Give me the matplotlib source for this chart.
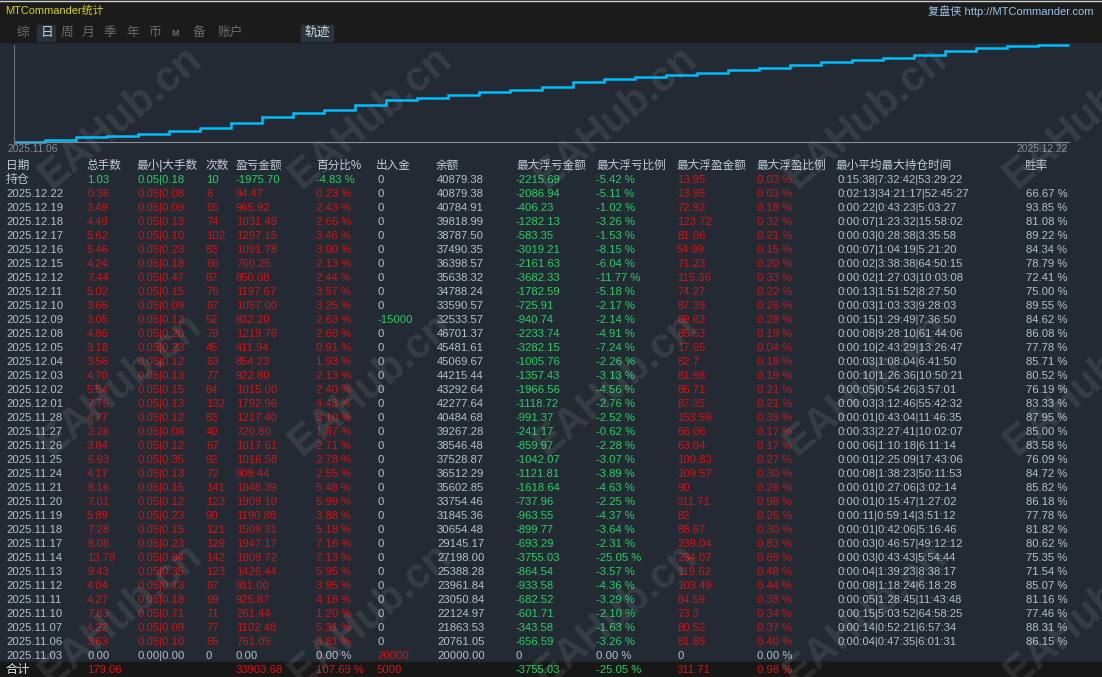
import numpy as np
import matplotlib.pyplot as plt
from matplotlib.patches import Rectangle

plt.rcParams['font.family'] = ['Liberation Sans', 'Noto Sans CJK SC', 'DejaVu Sans']

# 表の数値 (上から: 持仓, 2025.12.22 ... 2025.11.03)
dates = ['持仓', '2025.12.22', '2025.12.19', '2025.12.18', '2025.12.17', '2025.12.16',
         '2025.12.15', '2025.12.12', '2025.12.11', '2025.12.10', '2025.12.09',
         '2025.12.08', '2025.12.05', '2025.12.04', '2025.12.03', '2025.12.02',
         '2025.12.01', '2025.11.28', '2025.11.27', '2025.11.26', '2025.11.25',
         '2025.11.24', '2025.11.21', '2025.11.20', '2025.11.19', '2025.11.18',
         '2025.11.17', '2025.11.14', '2025.11.13', '2025.11.12', '2025.11.11',
         '2025.11.10', '2025.11.07', '2025.11.06', '2025.11.03']
lots = [1.03, 0.36, 3.49, 4.49, 5.62, 5.46, 4.24, 7.44, 5.02, 3.66, 3.05, 4.86, 3.18,
        3.56, 4.70, 5.54, 7.76, 4.77, 2.26, 3.84, 6.93, 4.17, 8.16, 7.01, 5.89, 7.28,
        8.08, 13.79, 9.43, 4.04, 4.27, 7.83, 4.22, 3.63, 0.00]
lot_min = [0.05] * 34 + [0.00]
lot_max = [0.18, 0.08, 0.09, 0.13, 0.10, 0.23, 0.18, 0.47, 0.15, 0.09, 0.12, 0.20, 0.23,
           0.12, 0.13, 0.15, 0.13, 0.12, 0.08, 0.12, 0.35, 0.13, 0.15, 0.12, 0.23, 0.15,
           0.23, 0.94, 0.35, 0.13, 0.18, 0.71, 0.09, 0.10, 0.00]
counts = [10, 6, 65, 74, 102, 83, 66, 87, 76, 67, 52, 79, 45, 63, 77, 84, 132, 83, 40,
          67, 92, 72, 141, 123, 90, 121, 129, 142, 123, 67, 69, 71, 77, 65, 0]
pnl = [-1975.70, 94.47, 965.92, 1031.49, 1297.15, 1091.78, 760.25, 850.08, 1197.67,
       1057.00, 832.20, 1219.76, 411.94, 854.23, 922.80, 1015.00, 1792.96, 1217.40,
       720.80, 1017.61, 1016.58, 909.44, 1848.39, 1909.10, 1190.88, 1509.31, 1947.17,
       1809.72, 1426.44, 911.00, 925.87, 261.44, 1102.48, 761.05, 0.00]
pnl_pct = [-4.83, 0.23, 2.43, 2.66, 3.46, 3.00, 2.13, 2.44, 3.57, 3.25, 2.63, 2.68, 0.91,
           1.93, 2.13, 2.40, 4.43, 3.10, 1.87, 2.71, 2.78, 2.55, 5.48, 5.99, 3.88, 5.18,
           7.16, 7.13, 5.95, 3.95, 4.18, 1.20, 5.31, 3.81, 0.00]
cash = [0] * 10 + [-15000] + [0] * 23 + [20000]
balance = [40879.38, 40879.38, 40784.91, 39818.99, 38787.50, 37490.35, 36398.57,
           35638.32, 34788.24, 33590.57, 32533.57, 46701.37, 45481.61, 45069.67,
           44215.44, 43292.64, 42277.64, 40484.68, 39267.28, 38546.48, 37528.87,
           36512.29, 35602.85, 33754.46, 31845.36, 30654.48, 29145.17, 27198.00,
           25388.28, 23961.84, 23050.84, 22124.97, 21863.53, 20761.05, 20000.00]
float_loss = [-2215.69, -2086.94, -406.23, -1282.13, -583.35, -3019.21, -2161.63,
              -3682.33, -1782.59, -725.91, -940.74, -2233.74, -3282.15, -1005.76,
              -1357.43, -1966.56, -1118.72, -991.37, -241.17, -859.97, -1042.07,
              -1121.81, -1618.64, -737.96, -963.55, -899.77, -693.29, -3755.03,
              -864.54, -933.58, -682.52, -601.71, -343.58, -656.59, 0]
float_loss_pct = [-5.42, -5.11, -1.02, -3.26, -1.53, -8.15, -6.04, -11.77, -5.18, -2.17,
                  -2.14, -4.91, -7.24, -2.26, -3.13, -4.56, -2.76, -2.52, -0.62, -2.28,
                  -3.07, -3.89, -4.63, -2.25, -4.37, -3.64, -2.31, -25.05, -3.57, -4.36,
                  -3.29, -2.10, -1.63, -3.26, 0.00]
float_profit = [13.95, 13.95, 72.92, 123.72, 81.06, 54.99, 71.23, 115.36, 74.27, 87.39,
                89.63, 85.53, 17.65, 82.7, 81.98, 86.71, 87.35, 153.59, 66.06, 63.04,
                100.83, 109.57, 90, 311.71, 82, 88.67, 239.04, 234.07, 119.62, 103.49,
                84.59, 73.3, 80.52, 81.89, 0]
float_profit_pct = [0.03, 0.03, 0.18, 0.32, 0.21, 0.15, 0.20, 0.33, 0.22, 0.26, 0.28, 0.19,
                    0.04, 0.18, 0.19, 0.21, 0.21, 0.39, 0.17, 0.17, 0.27, 0.30, 0.26, 0.98,
                    0.26, 0.30, 0.83, 0.89, 0.48, 0.44, 0.38, 0.34, 0.37, 0.40, 0.00]
hold_times = ['0:15:38|7:32:42|53:29:22', '0:02:13|34:21:17|52:45:27',
              '0:00:22|0:43:23|5:03:27', '0:00:07|1:23:32|15:58:02',
              '0:00:03|0:28:38|3:35:58', '0:00:07|1:04:19|5:21:20',
              '0:00:02|3:38:38|64:50:15', '0:00:02|1:27:03|10:03:08',
              '0:00:13|1:51:52|8:27:50', '0:00:03|1:03:33|9:28:03',
              '0:00:15|1:29:49|7:36:50', '0:00:08|9:28:10|61:44:06',
              '0:00:10|2:43:29|13:26:47', '0:00:03|1:08:04|6:41:50',
              '0:00:10|1:26:36|10:50:21', '0:00:05|0:54:26|3:57:01',
              '0:00:03|3:12:46|55:42:32', '0:00:01|0:43:04|11:46:35',
              '0:00:33|2:27:41|10:02:07', '0:00:06|1:10:18|6:11:14',
              '0:00:01|2:25:09|17:43:06', '0:00:08|1:38:23|50:11:53',
              '0:00:01|0:27:06|3:02:14', '0:00:01|0:15:47|1:27:02',
              '0:00:11|0:59:14|3:51:12', '0:00:01|0:42:06|5:16:46',
              '0:00:03|0:46:57|49:12:12', '0:00:03|0:43:43|5:54:44',
              '0:00:04|1:39:23|8:38:17', '0:00:08|1:18:24|6:18:28',
              '0:00:05|1:28:45|11:43:48', '0:00:15|5:03:52|64:58:25',
              '0:00:14|0:52:21|6:57:34', '0:00:04|0:47:35|6:01:31', '']
win_rate = [None, 66.67, 93.85, 81.08, 89.22, 84.34, 78.79, 72.41, 75.00, 89.55, 84.62,
            86.08, 77.78, 85.71, 80.52, 76.19, 83.33, 87.95, 85.00, 83.58, 76.09, 84.72,
            85.82, 86.18, 77.78, 81.82, 80.62, 75.35, 71.54, 85.07, 81.16, 77.46, 88.31,
            86.15, None]

# 合计
total_lots = 179.06
total_pnl = 33903.68
total_pct = 107.69
total_cash = 5000
total_float_loss = -3755.03
total_float_loss_pct = -25.05
total_float_profit = 311.71
total_float_profit_pct = 0.98

headers = ['日期', '总手数', '最小|大手数', '次数', '盈亏金额', '百分比%', '出入金', '余额',
           '最大浮亏金额', '最大浮亏比例', '最大浮盈金额', '最大浮盈比例', '最小平均最大持仓时间', '胜率']
tabs = ['综', '日', '周', '月', '季', '年', '币', 'M', '备', '账户']

# 色
BG = '#232a33'
TOPBAR = '#1b1b1b'
RED = '#d91212'
GREEN = '#1fd462'
TXT = '#b7c1ce'
GRAY = '#6c6c6c'


def sign_color(v):
    if v > 0:
        return RED
    if v < 0:
        return GREEN
    return TXT


fig = plt.figure(figsize=(11.02, 6.77), dpi=100, facecolor=BG)
ax = fig.add_axes([0, 0, 1, 1])
ax.set_xlim(0, 1102)
ax.set_ylim(677, 0)
ax.axis('off')

# 上のバー
ax.add_patch(Rectangle((0, 0), 1102, 42, color=TOPBAR, zorder=0))
ax.plot([0, 1102], [0.5, 0.5], color='#cfcfcf', lw=1)
ax.text(5, 11, 'MTCommander统计', color='#d6d600', fontsize=7.9, va='center')
ax.text(1094, 11, '复盘侠 http://MTCommander.com', color='#9cc4ec', fontsize=8.0,
        va='center', ha='right')

tab_x = [17, 41, 61, 82, 104, 126, 148, 171, 193, 217]
ax.add_patch(Rectangle((37, 25), 18, 16, color='#28313c', zorder=1))
for t, x in zip(tabs, tab_x):
    col = '#c8d0da' if t == '日' else GRAY
    ax.text(x, 33, t, color=col, fontsize=6.5 if t == 'M' else 9.2, va='center',
            fontweight='bold' if t == 'M' else 'normal', zorder=2)
ax.add_patch(Rectangle((301, 25), 32, 16, color='#2b343f', zorder=1))
ax.text(304, 33, '轨迹', color='#d4dbe3', fontsize=9.2, va='center', zorder=2)

# 資金曲線 (日次損益の累積)
daily = np.array(pnl[1:][::-1])
curve = np.cumsum(daily)
cax = fig.add_axes([14 / 1102, 1 - 142 / 677, (1069 - 14) / 1102, (142 - 45) / 677])
cax.set_facecolor('none')
cax.stairs(curve, np.arange(len(curve) + 1), baseline=None, color='#00bfff', lw=1.8,
           clip_on=False)
cax.set_xlim(0, len(curve))
cax.set_ylim(0, curve.max() * 1.005)
for s in ['top', 'right']:
    cax.spines[s].set_visible(False)
cax.spines['left'].set_color('#6e747c')
cax.spines['bottom'].set_color('#8a8f96')
cax.set_xticks([])
cax.set_yticks([])
ax.text(8, 149, '2025.11.06', color='#858d97', fontsize=7.4, va='center')
ax.text(1068, 149, '2025.12.22', color='#858d97', fontsize=7.4, va='center', ha='right')

# 表
col_x = [6, 87, 137, 206, 236, 316, 377, 437, 516, 596, 677, 757, 837, 1026]
head_x = [6, 86, 136, 206, 236, 316, 376, 436, 516, 596, 676, 756, 835, 1025]
FS = 8.1
for h, x in zip(headers, head_x):
    ax.text(x, 166, h, color='#c5ceda', fontsize=8.4, va='center')

for i in range(len(dates)):
    y = 180 + 14 * i
    pc = sign_color(pnl[i])
    cells = [
        (dates[i], TXT),
        (f'{lots[i]:.2f}', pc),
        (f'{lot_min[i]:.2f}|{lot_max[i]:.2f}', pc),
        (f'{counts[i]}', pc),
        (f'{pnl[i]:.2f}', pc),
        (f'{pnl_pct[i]:.2f} %', pc),
        (f'{cash[i]}', sign_color(cash[i])),
        (f'{balance[i]:.2f}', TXT),
        (f'{float_loss[i]:g}', sign_color(float_loss[i])),
        (f'{float_loss_pct[i]:.2f} %', sign_color(float_loss_pct[i])),
        (f'{float_profit[i]:g}', sign_color(float_profit[i])),
        (f'{float_profit_pct[i]:.2f} %', sign_color(float_profit_pct[i])),
        (hold_times[i], TXT),
        ('' if win_rate[i] is None else f'{win_rate[i]:.2f} %', TXT),
    ]
    for (s, c), x in zip(cells, col_x):
        fs = 8.6 if s == '持仓' else FS
        ax.text(x, y, s, color=c, fontsize=fs, va='center')

# 合計行
ax.add_patch(Rectangle((0, 662), 1102, 15, color='#171717', zorder=0))
ys = 670
ax.text(6, ys, '合计', color='#e2e6ea', fontsize=8.8, va='center')
total_cells = [
    (87, f'{total_lots:.2f}', sign_color(total_lots)),
    (236, f'{total_pnl:.2f}', sign_color(total_pnl)),
    (316, f'{total_pct:.2f} %', sign_color(total_pct)),
    (377, f'{total_cash}', sign_color(total_cash)),
    (516, f'{total_float_loss:.2f}', sign_color(total_float_loss)),
    (596, f'{total_float_loss_pct:.2f} %', sign_color(total_float_loss_pct)),
    (677, f'{total_float_profit:.2f}', sign_color(total_float_profit)),
    (757, f'{total_float_profit_pct:.2f} %', sign_color(total_float_profit_pct)),
]
for x, s, c in total_cells:
    ax.text(x, ys, s, color=c, fontsize=FS, va='center')

# 透かし
for wy in [118, 385, 615]:
    for wx in [120, 370, 615, 865, 1085]:
        ax.text(wx, wy, 'EAHub.cn', color='white', alpha=0.09, fontsize=30,
                fontweight='bold', rotation=40, ha='center', va='center',
                rotation_mode='anchor', zorder=5)

fig.savefig('out.png', dpi=100, facecolor=BG)
